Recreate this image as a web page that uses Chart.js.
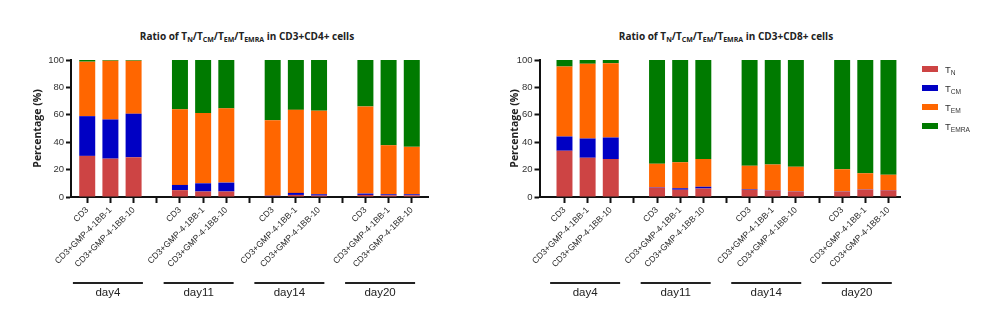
<!DOCTYPE html>
<html>
<head>
<meta charset="utf-8">
<script src="https://cdn.jsdelivr.net/npm/chart.js@4.4.1/dist/chart.umd.min.js"></script>
<style>
  html, body { margin: 0; padding: 0; background: #fff; }
  body { width: 1000px; height: 331px; position: relative; overflow: hidden; font-family: "Open Sans", sans-serif; }
  canvas { position: absolute; top: 0; }
  #cd4 { left: 0; }
  #cd8 { left: 490px; }
  .title { position: absolute; top: 29px; font-weight: bold; font-size: 10px; color: #222; white-space: nowrap; transform: translateX(-50%); }
  sub { font-size: 70%; vertical-align: -2px; line-height: 0; }
  .legend { position: absolute; left: 922px; top: 60px; font-family: "Liberation Sans", Arial, sans-serif; font-size: 9.5px; color: #333; }
  .legend div { height: 19px; line-height: 19px; white-space: nowrap; }
  .legend span.sw { display: inline-block; width: 16px; height: 6px; margin-right: 7px; vertical-align: middle; position: relative; top: -1px; }
</style>
</head>
<body>
<div class="title" style="left:247px">Ratio of T<sub>N</sub>/T<sub>CM</sub>/T<sub>EM</sub>/T<sub>EMRA</sub> in CD3+CD4+ cells</div>
<div class="title" style="left:726px">Ratio of T<sub>N</sub>/T<sub>CM</sub>/T<sub>EM</sub>/T<sub>EMRA</sub> in CD3+CD8+ cells</div>
<canvas id="cd4" width="490" height="331"></canvas>
<canvas id="cd8" width="510" height="331"></canvas>
<div class="legend" id="legend"></div>
<script>
// kategorier (tomma platser = mellanrum mellan dagarna)
const xLabels = ['CD3', 'CD3+GMP-4-1BB-1', 'CD3+GMP-4-1BB-10', '',
                 'CD3', 'CD3+GMP-4-1BB-1', 'CD3+GMP-4-1BB-10', '',
                 'CD3', 'CD3+GMP-4-1BB-1', 'CD3+GMP-4-1BB-10', '',
                 'CD3', 'CD3+GMP-4-1BB-1', 'CD3+GMP-4-1BB-10'];
const barSlots = [0, 1, 2, 4, 5, 6, 8, 9, 10, 12, 13, 14];
const groups = ['day4', 'day11', 'day14', 'day20'];
const yTicks = [0, 20, 40, 60, 80, 100];

const seriesNames = ['N', 'CM', 'EM', 'EMRA'];
const seriesColors = ['#cd4444', '#0000c4', '#ff6600', '#007a00'];

// CD3+CD4+
const cd4TN    = [30, 28, 29, 5, 4, 4, 0.5, 1.5, 1, 1.5, 1.2, 1.2];
const cd4TCM   = [29, 28.6, 31.8, 3.8, 6, 6.5, 0.4, 1.5, 1, 1, 0.8, 0.8];
const cd4TEM   = [39.8, 42.9, 38.7, 55.2, 51.3, 54.2, 55.1, 60.6, 61, 63.6, 35.8, 34.6];
const cd4TEMRA = [1.2, 0.5, 0.5, 36, 38.7, 35.3, 44, 36.4, 37, 33.9, 62.2, 63.4];

// CD3+CD8+
const cd8TN    = [33.7, 28.7, 27.7, 7, 5.3, 6.2, 5.2, 5, 3.9, 3.8, 5.5, 5];
const cd8TCM   = [10.4, 14, 15.7, 0.3, 1, 1.2, 0.2, 0.2, 0.2, 0.2, 0.2, 0.2];
const cd8TEM   = [51.1, 54.6, 54.2, 17, 19, 20.4, 17.4, 18.6, 18, 16.3, 11.6, 11];
const cd8TEMRA = [4.8, 2.7, 2.4, 75.7, 74.7, 72.2, 77.2, 76.2, 77.9, 79.7, 82.7, 83.8];

const tickFont = { family: 'Liberation Sans, Arial, sans-serif', size: 9.5 };

// Rita dag-linjer och etiketter under x-axeln
const groupPlugin = {
  id: 'groups',
  afterDraw(chart) {
    const xs = chart.scales.x;
    const c = chart.ctx;
    c.save();
    c.strokeStyle = '#222';
    c.lineWidth = 2;
    c.fillStyle = '#222';
    c.font = '11.5px "Liberation Sans", Arial, sans-serif';
    c.textAlign = 'center';
    c.textBaseline = 'middle';
    groups.forEach((g, i) => {
      const mid = (xs.getPixelForValue(4 * i) + xs.getPixelForValue(4 * i + 2)) / 2 - 2.5 - 2 * i;
      c.beginPath();
      c.moveTo(mid - 35, 283);
      c.lineTo(mid + 35, 283);
      c.stroke();
      c.fillText(g, mid, 293);
    });
    c.restore();
  }
};

function makeChart(id, values, xMin, xMax, padLeft, axisWidth, padRight, titlePad) {
  const datasets = values.map((vals, k) => ({
    label: 'T' + seriesNames[k],
    data: vals.map((v, i) => ({ x: barSlots[i], y: v })),
    backgroundColor: seriesColors[k],
    borderWidth: 0,
    categoryPercentage: 1,
    barPercentage: 0.69,
  }));
  return new Chart(document.getElementById(id), {
    type: 'bar',
    data: { datasets },
    plugins: [groupPlugin],
    options: {
      responsive: false,
      animation: false,
      layout: { padding: { left: padLeft, right: padRight, top: 60, bottom: 0 } },
      plugins: { legend: { display: false }, tooltip: { enabled: false } },
      scales: {
        x: {
          type: 'linear',
          stacked: true,
          offset: false,
          min: xMin,
          max: xMax,
          afterBuildTicks: (s) => { s.ticks = xLabels.map((_, i) => ({ value: i })); },
          afterFit: (s) => { s.height = 134; },
          grid: { offset: false, drawOnChartArea: false, tickLength: 6, tickWidth: 2, tickColor: '#111' },
          border: { color: '#111', width: 2 },
          ticks: {
            autoSkip: false,
            maxRotation: 45,
            minRotation: 45,
            padding: 2,
            color: '#2a2a2a',
            font: { family: 'Liberation Sans, Arial, sans-serif', size: 8.6 },
            callback: (v) => xLabels[v] ?? '',
          },
        },
        y: {
          stacked: true,
          min: 0,
          max: 100,
          afterBuildTicks: (s) => { s.ticks = yTicks.map(v => ({ value: v })); },
          afterFit: (s) => { s.width = axisWidth; },
          grid: { drawOnChartArea: false, tickLength: 5, tickWidth: 2, tickColor: '#111' },
          border: { color: '#111', width: 2 },
          ticks: { padding: 2, color: '#333', font: tickFont },
          title: {
            display: true,
            text: 'Percentage (%)',
            color: '#222',
            font: { family: 'Open Sans, sans-serif', size: 10.5, weight: 'bold' },
            padding: { top: titlePad, bottom: 0 },
          },
        },
      },
    },
  });
}

makeChart('cd4', [cd4TN, cd4TCM, cd4TEM, cd4TEMRA], -0.7, 14.7, 20, 51, 62, 12);
makeChart('cd8', [cd8TN, cd8TCM, cd8TEM, cd8TEMRA], -1.08, 14.5, 8, 41.5, 100, 10.7);

// Förklaring med nedsänkta index
const legend = document.getElementById('legend');
seriesNames.forEach((n, k) => {
  const row = document.createElement('div');
  row.innerHTML = '<span class="sw" style="background:' + seriesColors[k] + '"></span>T<sub>' + n + '</sub>';
  legend.appendChild(row);
});
</script>
</body>
</html>
